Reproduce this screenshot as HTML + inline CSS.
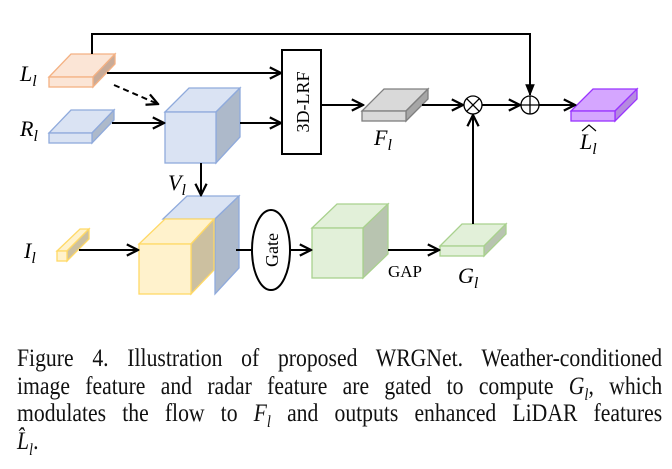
<!DOCTYPE html>
<html><head><meta charset="utf-8"><style>
body{margin:0;background:#fff;width:672px;height:469px;overflow:hidden;position:relative;font-family:"Liberation Serif",serif}
.cap{position:absolute;left:17px;width:759px;font-size:25.5px;line-height:27.5px;top:344px;color:#111;transform:scaleX(0.85);transform-origin:0 0}
.l{text-align:justify;text-align-last:justify;white-space:nowrap;height:27.5px}
.l2{white-space:nowrap}
i{font-style:italic}
sub{font-size:17px;line-height:0}
</style></head><body>
<svg width="672" height="330" style="position:absolute;left:0;top:0" font-family="Liberation Serif, serif">
<defs><marker id="a" viewBox="0 0 10 10" refX="9" refY="5" markerWidth="7" markerHeight="7" orient="auto"><path d="M1,1 L9,5 L1,9" fill="none" stroke="#000" stroke-width="1.6"/></marker>
<marker id="t" viewBox="0 0 10 10" refX="9" refY="5" markerWidth="6" markerHeight="6" orient="auto"><path d="M0,1 L10,5 L0,9z" fill="#000"/></marker></defs>
<g stroke-width="1.3">
<polygon points="49,77 71,54 115,54 93,77" fill="#fbe5d6" stroke="#f4b183"/>
<polygon points="93,77 115,54 115,64 93,87" fill="#c9ab98" stroke="#f4b183"/>
<rect x="49" y="77" width="44" height="10" fill="#fbe5d6" stroke="#f4b183"/>
<polygon points="49,133 71,110 114,110 92,133" fill="#dae3f3" stroke="#8faadc"/>
<polygon points="92,133 114,110 114,120 92,143" fill="#adb9ca" stroke="#8faadc"/>
<rect x="49" y="133" width="43" height="10" fill="#dae3f3" stroke="#8faadc"/>
<polygon points="165,112 189,88 240,88 216,112" fill="#dae3f3" stroke="#8faadc"/>
<polygon points="216,112 240,88 240,137 216,163" fill="#adb9ca" stroke="#8faadc"/>
<rect x="165" y="112" width="51" height="51" fill="#dae3f3" stroke="#8faadc"/>
<polygon points="163,219 187,196 239,196 215,219" fill="#dae3f3" stroke="#8faadc"/>
<polygon points="215,219 239,196 239,268 215,294" fill="#adb9ca" stroke="#8faadc"/>
<polygon points="139,244 165,219 214,219 191,244" fill="#fff2cc" stroke="#ffd966"/>
<polygon points="191,244 214,219 214,270 191,294" fill="#ccc0a0" stroke="#ffd966"/>
<rect x="139" y="244" width="52" height="50" fill="#fff2cc" stroke="#ffd966"/>
<polygon points="57,251 80,229 89,229 67,251" fill="#fff2cc" stroke="#ffd966"/>
<polygon points="67,251 89,229 89,239 67,261" fill="#ccc0a0" stroke="#ffd966"/>
<rect x="57" y="251" width="10" height="10" fill="#fff2cc" stroke="#ffd966"/>
<polygon points="312,228 337,204 388,204 363,228" fill="#e2f0d9" stroke="#a9d18e"/>
<polygon points="363,228 388,204 388,254 363,278" fill="#b8c4b0" stroke="#a9d18e"/>
<rect x="312" y="228" width="51" height="50" fill="#e2f0d9" stroke="#a9d18e"/>
<polygon points="440,246 462,224 506,224 484,246" fill="#e2f0d9" stroke="#a9d18e"/>
<polygon points="484,246 506,224 506,234 484,256" fill="#b8c4b0" stroke="#a9d18e"/>
<rect x="440" y="246" width="44" height="10" fill="#e2f0d9" stroke="#a9d18e"/>
<polygon points="362,111 384,89 428,89 406,111" fill="#d9d9d9" stroke="#7f7f7f"/>
<polygon points="406,111 428,89 428,99 406,121" fill="#a6a6a6" stroke="#7f7f7f"/>
<rect x="362" y="111" width="44" height="10" fill="#d9d9d9" stroke="#7f7f7f"/>
<polygon points="571,111 593,89 637,89 615,111" fill="#d5a6ff" stroke="#9933ff"/>
<polygon points="615,111 637,89 637,99 615,121" fill="#b58ae0" stroke="#9933ff"/>
<rect x="571" y="111" width="44" height="10" fill="#d5a6ff" stroke="#9933ff"/>
</g>
<g stroke="#000" stroke-width="2" fill="none">
<polyline points="92,54 92,34 530,34 530,95" marker-end="url(#t)"/>
<line x1="107" y1="73" x2="281" y2="73" marker-end="url(#a)"/>
<line x1="114" y1="85" x2="158" y2="104" stroke-dasharray="6,4" marker-end="url(#a)"/>
<line x1="112" y1="123" x2="164" y2="123" marker-end="url(#a)"/>
<line x1="240" y1="123" x2="281" y2="123" marker-end="url(#a)"/>
<line x1="321" y1="105" x2="363" y2="105" marker-end="url(#a)"/>
<line x1="422" y1="105" x2="463" y2="105" marker-end="url(#a)"/>
<line x1="482" y1="105" x2="520" y2="105" marker-end="url(#a)"/>
<line x1="539" y1="105" x2="575" y2="105" marker-end="url(#a)"/>
<line x1="473" y1="224" x2="473" y2="115" marker-end="url(#a)"/>
<line x1="201" y1="163" x2="201" y2="195" marker-end="url(#a)"/>
<line x1="79" y1="250" x2="138" y2="250" marker-end="url(#a)"/>
<line x1="236" y1="250" x2="252" y2="250"/>
<line x1="291" y1="250" x2="311" y2="250" marker-end="url(#a)"/>
<line x1="388" y1="250" x2="439" y2="250" marker-end="url(#a)"/>
<rect x="282" y="50" width="39" height="104" fill="#fff"/>
<ellipse cx="271" cy="250" rx="19" ry="40" fill="#fff"/>
</g>
<g stroke="#000" stroke-width="1.3" fill="#fff">
<circle cx="473" cy="105" r="9"/><line x1="466.6" y1="98.6" x2="479.4" y2="111.4"/><line x1="479.4" y1="98.6" x2="466.6" y2="111.4"/>
<circle cx="530" cy="105" r="9"/><line x1="521" y1="105" x2="539" y2="105"/><line x1="530" y1="96" x2="530" y2="114"/>
</g>
<text transform="translate(309,102) rotate(-90)" text-anchor="middle" font-size="18">3D-LRF</text>
<text transform="translate(278,250) rotate(-90)" text-anchor="middle" font-size="18">Gate</text>
<text x="388" y="277" font-size="17">GAP</text>
<g font-size="22" font-style="italic">
<text x="20" y="81">L<tspan font-size="16" dy="5">l</tspan></text>
<text x="20" y="136">R<tspan font-size="16" dy="5">l</tspan></text>
<text x="24" y="258">I<tspan font-size="16" dy="5">l</tspan></text>
<text x="168" y="190">V<tspan font-size="16" dy="5">l</tspan></text>
<text x="374" y="145">F<tspan font-size="16" dy="5">l</tspan></text>
<text x="458" y="283">G<tspan font-size="16" dy="5">l</tspan></text>
<text x="580" y="149">L<tspan font-size="16" dy="5">l</tspan></text>
</g>
<path d="M582,131 L589,125 L596,131" fill="none" stroke="#000" stroke-width="1.2"/>
</svg>
<div class="cap">
<div class="l">Figure 4. Illustration of proposed WRGNet. Weather-conditioned</div>
<div class="l">image feature and radar feature are gated to compute <i>G<sub>l</sub></i>, which</div>
<div class="l">modulates the flow to <i>F<sub>l</sub></i> and outputs enhanced LiDAR features</div>
<div class="l2"><i>L̂<sub>l</sub></i>.</div>
</div>
</body></html>
